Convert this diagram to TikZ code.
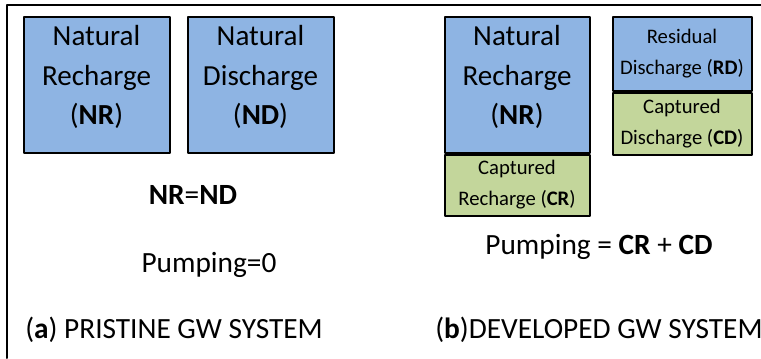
\documentclass[tikz,border=0pt]{standalone}
\usepackage{fontspec}
\setmainfont{Carlito}
\usepackage{tikz}
\usetikzlibrary{positioning}
\definecolor{boxblue}{HTML}{8EB4E3}
\definecolor{boxgreen}{HTML}{C3D69B}
\newcommand{\lastline}[1]{\raisebox{0pt}[\height][\dimexpr\depth+11pt\relax]{#1}}

\begin{document}
\begin{tikzpicture}[x=0.75pt, y=-0.75pt, line cap=round, line join=round,
		fluxbox/.style={draw, line width=1.5pt, align=center, inner sep=0pt, anchor=north west},
		bigtext/.style={font=\fontsize{21.8}{29.6}\selectfont},
		smalltext/.style={font=\fontsize{15.5}{23.2}\selectfont},
		eqtext/.style={font=\fontsize{22}{26}\selectfont, inner sep=0pt}]
			\useasboundingbox (0,0) rectangle (761,358);
			\draw[line width=1.5pt] (7,358) -- (7,5) -- (761,5);
			% (a) pristine system
			\node[fluxbox, bigtext, fill=boxblue, minimum width=146*0.75pt, minimum height=136*0.75pt] (nra) at (22.5,15.5) {Natural\\Recharge\\\lastline{(\textbf{NR})}};
			\node[fluxbox, bigtext, fill=boxblue, minimum width=146*0.75pt, minimum height=136*0.75pt] (nda) at (186.5,15.5) {Natural\\Discharge\\\lastline{(\textbf{ND})}};
			\node[eqtext, anchor=base] (balance) at (193,204) {\textbf{NR}=\textbf{ND}};
			\node[eqtext, anchor=base] (pumpa) at (209,272) {Pumping=0};
			\node[eqtext, anchor=base west] (capa) at (25,338) {(\textbf{a}) PRISTINE GW SYSTEM};
			% (b) developed system
			\node[fluxbox, bigtext, fill=boxblue, minimum width=145*0.75pt, minimum height=136*0.75pt] (nrb) at (443.5,15.5) {Natural\\Recharge\\\lastline{(\textbf{NR})}};
			\node[fluxbox, smalltext, fill=boxgreen, minimum width=145*0.75pt, minimum height=61*0.75pt, anchor=north, below=0pt of nrb] (cr) {Captured\\Recharge (\textbf{CR})};
			\node[fluxbox, smalltext, fill=boxblue, minimum width=139*0.75pt, minimum height=74*0.75pt] (rd) at (611.5,15.5) {Residual\\Discharge (\textbf{RD})};
			\node[fluxbox, smalltext, fill=boxgreen, minimum width=139*0.75pt, minimum height=62*0.75pt, anchor=north, below=0pt of rd] (cd) {Captured\\Discharge (\textbf{CD})};
			\node[eqtext, anchor=base] (pumpb) at (599,254) {Pumping = \textbf{CR} + \textbf{CD}};
			\node[eqtext, anchor=base west] (capb) at (435,338) {(\textbf{b})DEVELOPED GW SYSTEM};
		\end{tikzpicture}
\end{document}
